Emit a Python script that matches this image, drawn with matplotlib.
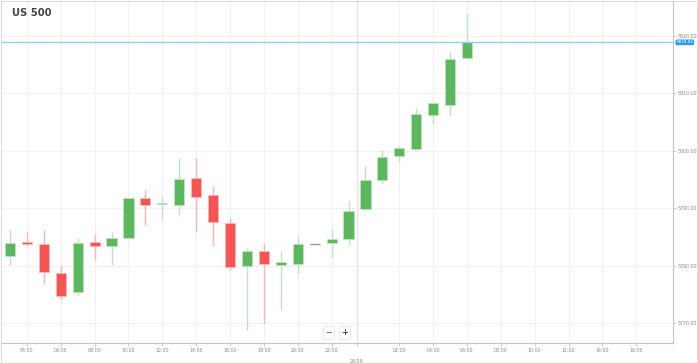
import matplotlib.pyplot as plt
from matplotlib.patches import Rectangle

# hourly candles, hours counted from 25/09 00:00
hours = list(range(3, 31))
opens = [5781.7, 5784.2, 5783.8, 5778.8, 5775.4, 5784.2, 5783.4, 5784.9, 5791.8, 5790.8,
         5790.6, 5795.3, 5792.3, 5787.5, 5779.9, 5782.5, 5780.1, 5780.4, 5783.85, 5784.0,
         5784.7, 5789.8, 5794.9, 5799.0, 5800.3, 5806.2, 5807.9, 5816.1]
highs = [5786.3, 5785.8, 5786.3, 5780.1, 5784.9, 5785.6, 5785.8, 5791.8, 5793.1, 5792.1,
         5798.7, 5798.7, 5793.9, 5788.3, 5783.1, 5783.8, 5782.6, 5785.1, 5783.85, 5786.4,
         5791.2, 5797.3, 5800.1, 5800.9, 5807.4, 5808.4, 5817.2, 5823.7]
lows = [5780.1, 5783.4, 5776.9, 5774.3, 5774.8, 5781.1, 5780.1, 5784.9, 5787.1, 5787.9,
        5788.9, 5785.9, 5783.4, 5779.3, 5768.8, 5769.9, 5772.3, 5778.8, 5783.85, 5781.6,
        5783.7, 5789.7, 5794.2, 5798.0, 5800.3, 5804.6, 5806.0, 5816.1]
closes = [5784.0, 5783.8, 5779.0, 5774.8, 5784.0, 5783.4, 5784.8, 5791.7, 5790.6, 5790.9,
          5795.1, 5792.0, 5787.7, 5779.8, 5782.6, 5780.3, 5780.6, 5783.8, 5783.85, 5784.7,
          5789.6, 5794.9, 5798.9, 5800.4, 5806.4, 5808.2, 5815.9, 5818.82]

last_price = 5818.82
tick_hours = [4, 6, 8, 10, 12, 14, 16, 18, 20, 22, 26, 28, 30, 32, 34, 36, 38, 40]
tick_labels = ["04:00", "06:00", "08:00", "10:00", "12:00", "14:00", "16:00", "18:00", "20:00",
               "22:00", "02:00", "04:00", "06:00", "08:00", "10:00", "12:00", "14:00", "16:00"]
day_break = 23.5
day_label = "26/09"
price_ticks = [5770, 5780, 5790, 5800, 5810, 5820]

GREEN = "#5cb85c"
RED = "#f95454"
GREEN_WICK = "#bfe3bf"
RED_WICK = "#ffb0b0"
LABEL_SIZE = 3.4

fig = plt.figure(figsize=(6.98, 3.63), dpi=100)
ax = fig.add_axes([1 / 698, 20 / 363, 672 / 698, 342 / 363])
ax.set_xlim(2.47, 42.17)
ax.set_ylim(5766.6, 5826.0)

# grid
for y in price_ticks:
    ax.axhline(y, color="#f1f1f1", lw=0.8, zorder=0)
for x in tick_hours:
    ax.axvline(x, color="#f1f1f1", lw=0.8, zorder=0)
ax.axvline(day_break, color="#e4e4e4", lw=1.0, zorder=0)

# candles
w = 0.6
for h, o, hi, lo, c in zip(hours, opens, highs, lows, closes):
    if o == c:
        ax.hlines(o, h - w / 2, h + w / 2, color="#999999", lw=1.0, zorder=3)
        continue
    up = c > o
    col = GREEN if up else RED
    wick = GREEN_WICK if up else RED_WICK
    ax.vlines(h, lo, hi, color=wick, lw=1.0, zorder=2)
    ax.bar(h, abs(c - o), width=w, bottom=min(o, c), color=col,
           edgecolor=GREEN_WICK if up else "#ffb8b8", linewidth=0.6, zorder=3)

# last price line and label
ax.axhline(last_price, color="#8fd0f5", lw=1.0, zorder=4)
ax.text(1.005, last_price, f"{last_price:.2f}", transform=ax.get_yaxis_transform(),
        fontsize=3.0, color="white", va="center", ha="left", zorder=5, clip_on=False,
        bbox=dict(boxstyle="round,pad=0.2,rounding_size=0.3", fc="#2b9af3", ec="none"))

# axes
for side in ["left", "top"]:
    ax.spines[side].set_visible(False)
for side in ["right", "bottom"]:
    ax.spines[side].set_color("#c4c4c4")
    ax.spines[side].set_linewidth(0.8)
ax.yaxis.tick_right()
ax.set_yticks(price_ticks)
ax.set_yticklabels([f"{p:.2f}" for p in price_ticks])
ax.set_xticks(tick_hours + [day_break])
ax.set_xticklabels(tick_labels + [""])
ax.tick_params(axis="both", colors="#c4c4c4", labelcolor="#8a8a8a", labelsize=LABEL_SIZE,
               length=2.0, width=0.6, pad=1.5)
ax.text(day_break, -0.045, day_label, transform=ax.get_xaxis_transform(),
        fontsize=LABEL_SIZE, color="#8a8a8a", ha="center", va="top")

# title
fig.text(12 / 698, 1 - 13 / 363, "US 500", fontsize=7.2, fontweight="bold",
         color="#444444", va="center", ha="left")

# zoom buttons
ax.text(0.488, 0.03, "\u2212", transform=ax.transAxes, fontsize=6, color="#555555",
        ha="center", va="center",
        bbox=dict(boxstyle="round,pad=0.25", fc="white", ec="#e6e6e6", lw=0.6))
ax.text(0.512, 0.03, "+", transform=ax.transAxes, fontsize=6, color="#555555",
        ha="center", va="center", fontweight="bold",
        bbox=dict(boxstyle="round,pad=0.25", fc="white", ec="#e6e6e6", lw=0.6))

# outer frame
fig.patches.append(Rectangle((0.001, 0.001), 0.997, 0.997, transform=fig.transFigure,
                             fill=False, ec="#dcdcdc", lw=0.8))

fig.savefig("out.png", dpi=100)
